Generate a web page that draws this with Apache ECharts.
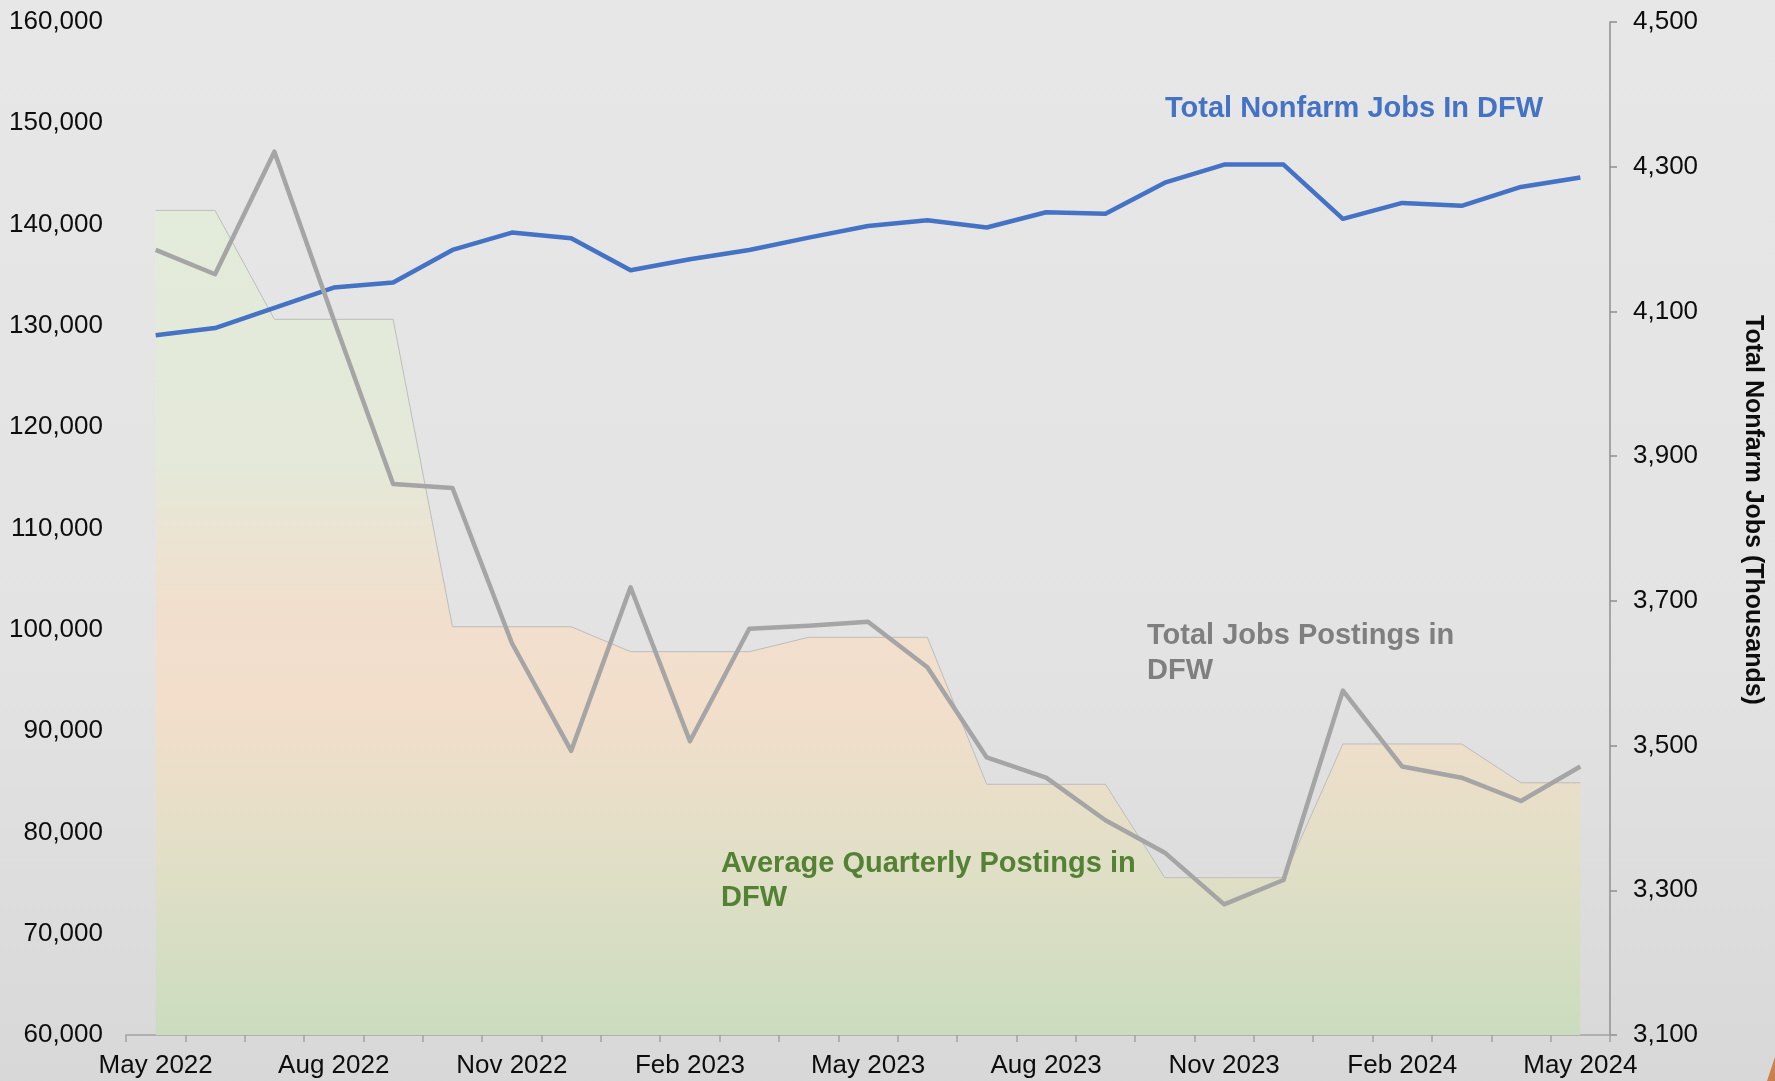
<!DOCTYPE html>
<html>
<head>
<meta charset="utf-8">
<script src="https://cdn.jsdelivr.net/npm/echarts@6/dist/echarts.min.js"></script>
<style>
html,body{margin:0;padding:0;background:#e3e2e2;}
#chart{width:1775px;height:1081px;}
</style>
</head>
<body>
<div id="chart"></div>
<script>
var months = ['May 2022','Jun 2022','Jul 2022','Aug 2022','Sep 2022','Oct 2022','Nov 2022','Dec 2022',
  'Jan 2023','Feb 2023','Mar 2023','Apr 2023','May 2023','Jun 2023','Jul 2023','Aug 2023','Sep 2023',
  'Oct 2023','Nov 2023','Dec 2023','Jan 2024','Feb 2024','Mar 2024','Apr 2024','May 2024'];
var jobPostings = [137500,135100,147200,130600,114400,114000,98700,88050,104200,89000,100100,100400,
  100800,96300,87400,85400,81200,78000,72900,75300,94000,86500,85400,83100,86500];
var avgQuarterlyPostings = [141400,141400,130650,130650,130650,100300,100300,100300,97840,97840,97840,
  99260,99260,99260,84750,84750,84750,75530,75530,75530,88730,88730,88730,84900,84900];
var nonfarmJobs = [4067,4077,4105,4133,4140,4185,4209,4201,4157,4172,4185,4202,4218,4226,4216,4237,
  4235,4278,4303,4303,4228,4250,4246,4272,4285];

var FONT = "'Liberation Sans', Arial, sans-serif";
var chart = echarts.init(document.getElementById('chart'));
function fmt(v){ return v.toLocaleString('en-US'); }

chart.setOption({
  animation: false,
  backgroundColor: {type:'linear', x:0, y:0, x2:0, y2:1, colorStops:[
    {offset:0, color:'#e8e7e7'}, {offset:0.6, color:'#e4e3e3'}, {offset:1, color:'#d8d8d8'}]},
  grid: {left:126, right:165, top:22, bottom:46, containLabel:false},
  xAxis: {
    type:'category', data: months, boundaryGap:true,
    axisLine:{show:true, lineStyle:{color:'#a3a3a3', width:1.5}},
    axisTick:{show:true, interval:0, alignWithLabel:false, length:7, lineStyle:{color:'#a3a3a3', width:1.5}},
    axisLabel:{interval:2, margin:18, color:'#0d0d0d', fontSize:26, fontFamily:FONT},
    splitLine:{show:false}
  },
  yAxis: [
    {type:'value', position:'left', min:60000, max:160000, interval:10000,
     axisLine:{show:false}, axisTick:{show:false}, splitLine:{show:false},
     axisLabel:{margin:23, color:'#0d0d0d', fontSize:26, fontFamily:FONT, formatter: fmt, padding:[4,0,0,0]}},
    {type:'value', position:'right', min:3100, max:4500, interval:200,
     axisLine:{show:true, lineStyle:{color:'#8f8f8f', width:1.5}},
     axisTick:{show:true, length:7, lineStyle:{color:'#8f8f8f', width:1.5}},
     splitLine:{show:false},
     axisLabel:{margin:23, color:'#0d0d0d', fontSize:26, fontFamily:FONT, formatter: fmt, padding:[4,0,0,0]}}
  ],
  series: [
    {name:'Average Quarterly Postings in DFW', type:'line', yAxisIndex:0, data: avgQuarterlyPostings,
     symbol:'none', lineStyle:{color:'#bdbdbd', width:1},
     areaStyle:{origin:'start', opacity:1, color:{type:'linear', x:0, y:0, x2:0, y2:1, colorStops:[
       {offset:0, color:'#e3ebdb'}, {offset:0.3, color:'#e4e9d9'}, {offset:0.48, color:'#f1dfcd'},
       {offset:0.6, color:'#f2decb'}, {offset:0.78, color:'#e2dfc7'}, {offset:1, color:'#cbdcbe'}]}},
     z:1},
    {name:'Total Nonfarm Jobs In DFW', type:'line', yAxisIndex:1, data: nonfarmJobs,
     symbol:'none', lineStyle:{color:'#4472c4', width:4.5, join:'round'}, z:3},
    {name:'Total Jobs Postings in DFW', type:'line', yAxisIndex:0, data: jobPostings,
     symbol:'none', lineStyle:{color:'#a5a5a5', width:4.5, join:'round'}, z:4}
  ],
  graphic: [
    {type:'text', z:100, left:1165, top:94, style:{text:'Total Nonfarm Jobs In DFW', fill:'#4472c4',
      font:'bold 29px ' + FONT}},
    {type:'text', z:100, left:1147, top:618, style:{text:'Total Jobs Postings in\nDFW', fill:'#7f7f7f',
      font:'bold 29px ' + FONT, lineHeight:35}},
    {type:'text', z:100, left:721, top:847, style:{text:'Average Quarterly Postings in\nDFW', fill:'#548235',
      font:'bold 29px ' + FONT, lineHeight:34}},
    {type:'text', z:100, x:1753, y:510, rotation:-Math.PI/2,
      style:{text:'Total Nonfarm Jobs (Thousands)', fill:'#0d0d0d', font:'bold 25px ' + FONT,
      textAlign:'center', textVerticalAlign:'middle'}},
    {type:'polygon', z:100, shape:{points:[[1775,1057],[1775,1081],[1767,1081]]}, style:{fill:'#c9824e'}}
  ]
});
</script>
</body>
</html>
